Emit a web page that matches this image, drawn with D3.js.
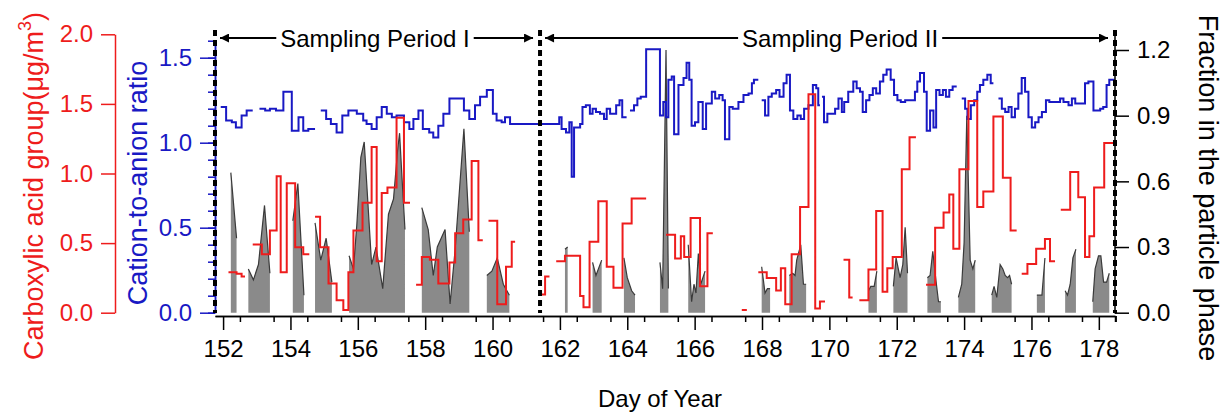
<!DOCTYPE html>
<html>
<head>
<meta charset="utf-8">
<script src="https://cdn.jsdelivr.net/npm/d3@7"></script>
<style>
  body { margin: 0; background: #fff; }
  text { font-family: Arial, "Liberation Sans", sans-serif; }
</style>
</head>
<body>
<div id="chart"></div>
<script>
// ---- data (day of year, value); null = gap starting at that day ----
const blueDays = [151.93,152.09,152.26,152.38,152.55,152.70,152.88,153.08,153.25,153.39,153.57,153.79,154.04,154.24,154.38,154.53,154.73,
  154.90,155.06,155.20,155.37,155.54,155.72,155.97,156.16,156.26,156.41,156.56,156.71,156.86,157.01,157.15,157.37,157.53,157.65,157.80,
  157.93,158.12,158.24,158.39,158.54,158.72,159.15,159.31,159.48,159.63,159.83,160.01,160.12,160.27,160.37,160.52,
  161.98,162.05,162.18,162.28,162.35,162.42,162.60,162.67,162.77,162.89,162.97,163.07,163.19,163.31,163.39,163.49,163.67,163.77,163.85,163.98,
  164.08,164.20,164.30,164.40,164.56,164.97,165.07,165.15,165.22,165.32,165.39,165.52,165.67,165.76,165.84,165.91,166.01,166.11,166.24,
  166.34,166.51,166.61,166.73,166.83,166.90,167.03,167.13,167.30,167.45,167.60,167.70,167.76,167.89,
  167.99,168.09,168.19,168.29,168.42,168.52,168.64,168.73,168.83,168.93,169.05,169.15,169.25,169.38,169.51,169.61,169.67,169.72,
  169.78,169.84,169.94,170.17,170.27,170.37,170.44,170.56,170.71,170.81,170.91,170.99,171.09,171.19,171.29,171.39,171.50,171.60,171.70,
  171.82,171.92,172.02,172.12,172.25,172.54,172.61,172.69,172.81,172.89,172.99,173.09,173.17,173.27,173.37,173.46,173.56,173.66,173.78,
  173.93,174.03,174.10,174.20,174.30,174.39,174.47,174.57,174.69,174.79,174.87,
  175.02,175.12,175.22,175.32,175.41,175.51,175.61,175.71,175.81,175.91,176.01,176.11,176.21,176.31,176.43,176.53,176.85,176.95,177.10,
  177.20,177.30,177.59,177.69,177.84,178.04,178.13,178.23,178.31,178.47];
const blueVals = [1.21,1.13,1.12,1.09,1.16,1.19,null,1.20,1.19,1.20,1.19,1.30,1.07,1.15,1.07,1.08,null,
  1.19,1.14,1.11,1.06,1.16,1.19,1.17,1.13,1.11,1.08,1.15,1.21,1.17,1.15,1.16,1.12,1.08,1.14,1.19,
  1.08,1.06,1.03,1.10,1.17,1.26,1.19,1.14,1.22,1.27,1.31,1.17,1.13,1.12,1.15,1.11,
  1.15,1.08,1.06,1.12,0.80,1.09,1.11,1.21,1.22,1.17,1.20,1.18,1.17,1.14,1.20,1.17,1.22,1.25,1.15,null,
  1.19,1.22,1.26,1.27,1.55,1.16,1.24,1.15,1.37,1.39,1.05,1.34,1.38,1.47,1.37,1.10,1.12,1.24,1.08,
  1.23,1.30,1.26,1.28,1.25,1.02,1.21,1.20,1.24,1.28,1.29,1.35,1.37,null,
  1.25,1.16,1.27,1.29,1.31,1.27,1.35,1.40,1.19,1.14,1.16,1.14,1.20,1.22,1.34,1.32,1.22,null,
  1.27,1.12,1.17,1.20,1.26,1.18,1.24,1.30,1.36,1.32,1.30,1.18,1.25,1.28,1.32,1.29,1.36,1.40,1.43,
  1.37,1.28,1.25,1.24,1.25,1.30,1.36,1.41,1.30,1.07,1.19,1.09,1.31,1.28,1.31,1.27,1.31,1.33,null,
  1.26,1.20,1.14,1.22,1.25,1.30,1.34,1.37,1.40,1.35,null,
  1.26,1.20,1.18,1.21,1.15,1.20,1.29,1.38,1.30,1.15,1.09,1.12,1.15,1.18,1.25,1.24,1.26,1.24,1.22,
  1.26,1.23,1.35,1.36,1.19,1.20,1.21,1.34,1.37,null];

const redDays = [152.16,152.40,152.55,152.65,152.88,153.15,153.39,153.59,153.71,153.89,154.14,154.38,154.56,
  154.73,154.88,155.13,155.37,155.57,155.72,155.87,156.14,156.41,156.56,156.71,156.88,157.15,157.37,157.55,
  157.73,157.90,158.14,158.39,158.72,158.89,159.13,159.38,159.58,159.71,159.88,160.14,160.40,160.57,160.67,
  161.41,161.56,161.69,161.89,162.15,162.60,162.70,162.88,163.14,163.39,163.59,163.86,164.13,164.56,
  165.15,165.42,165.59,165.69,165.88,166.16,166.38,166.54,167.40,167.55,
  167.89,168.14,168.42,168.56,168.69,168.88,169.13,169.38,169.58,169.72,169.87,170.42,170.59,170.69,
  170.89,171.16,171.39,171.58,171.72,171.88,172.15,172.38,172.57,172.87,173.14,173.39,173.56,173.68,173.86,
  174.13,174.39,174.57,174.87,175.15,175.38,175.56,175.71,175.88,176.14,176.40,176.55,176.70,
  176.87,177.15,177.39,177.59,177.72,177.86,178.16,178.45];
const redVals = [0.29,0.28,0.26,null,0.49,0.42,0.59,0.98,0.29,0.93,0.47,0.42,null,
  0.69,0.47,0.21,0.09,0.02,0.29,0.59,0.79,1.19,0.37,0.86,0.90,1.40,0.79,null,
  0.20,0.40,0.38,0.21,0.36,0.57,0.67,1.09,0.52,null,0.66,0.06,0.33,0.51,null,
  0.13,0.26,null,0.37,0.41,0.12,0.04,0.51,0.80,0.33,0.18,0.64,0.82,null,
  0.56,0.39,0.55,0.40,0.68,0.19,0.57,null,0.02,null,
  0.29,0.25,0.16,0.32,0.06,0.42,0.76,1.57,0.03,0.08,null,0.38,0.11,null,
  0.09,0.31,0.73,0.15,0.32,0.40,1.03,1.26,null,0.20,0.61,0.72,0.85,0.46,1.03,
  1.52,0.76,0.87,1.41,0.97,0.59,null,0.28,0.35,0.46,0.53,0.37,null,
  0.74,1.01,0.83,0.40,0.55,0.90,1.22,null];

const fracDays = [152.23,152.40,0,
  152.75,152.90,153.05,153.23,153.39,0,
  154.07,154.22,154.40,0,
  154.73,154.90,155.06,155.23,0,
  155.74,155.87,155.97,156.09,156.19,156.41,156.54,156.74,156.91,157.06,157.18,157.24,157.30,157.40,0,
  157.90,158.09,158.24,158.36,158.59,158.74,158.89,159.15,159.31,0,
  159.83,159.98,160.14,160.32,160.50,0,
  162.15,162.23,0,
  162.97,163.07,163.24,0,
  163.90,164.00,164.13,164.23,0,
  164.97,165.05,165.15,165.22,0,
  165.81,165.91,165.98,166.04,166.11,166.18,166.31,0,
  167.99,168.09,168.16,168.24,0,
  168.81,168.91,168.98,169.03,169.15,169.23,169.31,0,
  171.16,171.23,171.33,171.41,0,
  171.90,171.98,172.10,172.18,172.25,172.32,0,
  172.91,172.99,173.07,173.17,173.24,173.31,0,
  173.83,173.93,174.00,174.08,174.18,174.26,174.33,0,
  174.82,174.89,174.97,175.07,175.15,175.22,175.29,175.35,175.41,0,
  176.16,176.31,176.40,0,
  177.00,177.07,177.15,177.23,177.32,0,
  177.82,177.89,177.99,178.06,178.14,178.23,178.31];
const fracVals = [0.64,0.34,null,
  0.20,0.15,0.22,0.49,0.18,null,
  0.42,0.59,0.08,null,
  0.41,0.24,0.34,0.14,null,
  0.26,0.20,0.40,0.71,0.78,0.22,0.30,0.11,0.45,0.52,0.74,0.82,0.65,0.38,null,
  0.48,0.38,0.17,0.30,0.38,0.04,0.29,0.84,0.37,null,
  0.17,0.19,0.25,0.13,0.08,null,
  0.29,0.30,null,
  0.23,0.17,0.24,null,
  0.25,0.16,0.10,0.08,null,
  0.23,0.11,1.20,0.11,null,
  0.31,0.05,0.13,0.09,0.27,0.13,0.19,null,
  0.21,0.09,0.11,0.11,null,
  0.17,0.18,0.17,0.24,0.31,0.13,0.13,null,
  0.10,0.12,0.12,0.19,null,
  0.12,0.25,0.16,0.22,0.39,0.18,null,
  0.16,0.17,0.28,0.14,0.05,0.05,null,
  0.07,0.13,0.32,0.90,0.24,0.20,0.24,null,
  0.08,0.12,0.07,0.22,0.20,0.17,0.16,0.17,0.13,null,
  0.08,0.08,0.25,null,
  0.10,0.08,0.13,0.25,0.29,null,
  0.05,0.20,0.26,0.26,0.14,0.14,0.18];

const periodBounds = [151.76, 161.41, 178.48];
const periodLabels = ["Sampling Period I", "Sampling Period II"];
const periodLabelDays = [156.51, 170.32];

const redTicks = [0, 0.5, 1.0, 1.5, 2.0];
const blueTicks = [0, 0.5, 1.0, 1.5];
const fracTicks = [0, 0.3, 0.6, 0.9, 1.2];
const dayTicks = d3.range(152, 179, 2);

// ---- layout ----
const width = 1225, height = 417;
const RED = "#ee1c1c", BLUE = "#1919c4";

const svg = d3.select("#chart").append("svg")
    .attr("width", width)
    .attr("height", height);

const x = d3.scaleLinear().domain([151.76, 178.48]).range([215, 1115]);
const yBlue = d3.scaleLinear().domain([0, 1.6]).range([312.7, 40.7]);
const yRed = d3.scaleLinear().domain([0, 2]).range([312.7, 34.3]);
const yFrac = d3.scaleLinear().domain([0, 1.2]).range([312.7, 50]);

// turns (start day, value) rows into points for a step line that ends at each gap
function stepPoints(days, vals){
    const pts = [];
    days.forEach((d, i) => {
        if (vals[i] == null) {
            if (i > 0 && vals[i-1] != null) pts.push({d: d, v: vals[i-1]});
            pts.push({d: d, v: null});
        } else {
            pts.push({d: d, v: vals[i]});
        }
    });
    return pts;
}

// gray area: fraction in the particle phase
const fracData = fracDays.map((d, i) => ({d: d, v: fracVals[i]}));
svg.append("path")
    .datum(fracData)
    .attr("fill", "#8a8a8a")
    .attr("d", d3.area()
        .defined(p => p.v != null)
        .x(p => x(p.d))
        .y0(yFrac(0))
        .y1(p => yFrac(p.v)));
svg.append("path")
    .datum(fracData)
    .attr("fill", "none")
    .attr("stroke", "#3a3a3a")
    .attr("stroke-width", 1.2)
    .attr("d", d3.line()
        .defined(p => p.v != null)
        .x(p => x(p.d))
        .y(p => yFrac(p.v)));

// blue step line
svg.append("path")
    .datum(stepPoints(blueDays, blueVals))
    .attr("fill", "none")
    .attr("stroke", BLUE)
    .attr("stroke-width", 2)
    .attr("d", d3.line()
        .defined(p => p.v != null)
        .curve(d3.curveStepAfter)
        .x(p => x(p.d))
        .y(p => yBlue(p.v)));

// red step line
svg.append("path")
    .datum(stepPoints(redDays, redVals))
    .attr("fill", "none")
    .attr("stroke", RED)
    .attr("stroke-width", 2)
    .attr("d", d3.line()
        .defined(p => p.v != null)
        .curve(d3.curveStepAfter)
        .x(p => x(p.d))
        .y(p => yRed(p.v)));

// ---- axes ----
function styleAxis(g, color, size){
    g.select(".domain").attr("stroke", color).attr("stroke-width", 1.5);
    g.selectAll(".tick line").attr("stroke", color).attr("stroke-width", 1.5);
    g.selectAll(".tick text").attr("fill", color).attr("font-size", size)
        .attr("font-family", "Arial, 'Liberation Sans', sans-serif");
}

// bottom axis
const gx = svg.append("g").attr("transform", "translate(0,316)")
    .call(d3.axisBottom(x).tickValues(dayTicks).tickFormat(d3.format("d"))
        .tickSize(14).tickSizeOuter(0).tickPadding(10));
styleAxis(gx, "#000", 24);
const gx2 = svg.append("g").attr("transform", "translate(0,316)")
    .call(d3.axisBottom(x).tickValues(d3.range(152.5, 178.6, 1).concat([178.48]))
        .tickFormat("").tickSize(6).tickSizeOuter(0));
styleAxis(gx2, "#000", 24);

// red left axis
const gr = svg.append("g").attr("transform", "translate(115,0)")
    .call(d3.axisLeft(yRed).tickValues(redTicks).tickFormat(d3.format(".1f"))
        .tickSize(14).tickSizeOuter(0).tickPadding(8));
styleAxis(gr, RED, 24);

// blue left axis
const gb2 = svg.append("g").attr("transform", "translate(215,0)")
    .call(d3.axisLeft(yBlue).tickValues(d3.range(0, 1.61, 0.1)).tickFormat("")
        .tickSize(7).tickSizeOuter(0));
styleAxis(gb2, BLUE, 24);
const gb = svg.append("g").attr("transform", "translate(215,0)")
    .call(d3.axisLeft(yBlue).tickValues(blueTicks).tickFormat(d3.format(".1f"))
        .tickSize(15).tickSizeOuter(0).tickPadding(8));
styleAxis(gb, BLUE, 24);

// right axis
const gf = svg.append("g").attr("transform", "translate(1115,0)")
    .call(d3.axisRight(yFrac).tickValues(fracTicks).tickFormat(d3.format(".1f"))
        .tickSize(14).tickSizeOuter(0).tickPadding(8));
styleAxis(gf, "#000", 24);
gf.select(".domain").attr("d", "M0,313.5V30");

// dotted period separators
svg.append("g").selectAll("line")
    .data(periodBounds)
    .enter()
    .append("line")
        .attr("x1", d => x(d)).attr("x2", d => x(d))
        .attr("y1", 30).attr("y2", 313)
        .attr("stroke", "#000")
        .attr("stroke-width", 4)
        .attr("stroke-dasharray", "6,4");

// period annotations with arrows
const defs = svg.append("defs");
defs.append("marker")
    .attr("id", "arrow")
    .attr("viewBox", "0 0 10 10")
    .attr("refX", 10).attr("refY", 5)
    .attr("markerWidth", 16).attr("markerHeight", 9)
    .attr("markerUnits", "userSpaceOnUse")
    .attr("orient", "auto")
    .append("path").attr("d", "M0,0L10,5L0,10Z").attr("fill", "#000");

periodLabels.forEach((label, i) => {
    const left = x(periodBounds[i]) + 5;
    const right = x(periodBounds[i+1]) - 7;
    const cx = x(periodLabelDays[i]);
    const t = svg.append("text")
        .attr("x", cx).attr("y", 46.5)
        .attr("text-anchor", "middle")
        .attr("font-size", 24)
        .attr("fill", "#000")
        .text(label);
    const half = t.node().getComputedTextLength() / 2;
    svg.append("line")
        .attr("x1", cx - half - 4).attr("x2", left)
        .attr("y1", 38).attr("y2", 38)
        .attr("stroke", "#000").attr("stroke-width", 2)
        .attr("marker-end", "url(#arrow)");
    svg.append("line")
        .attr("x1", cx + half + 4).attr("x2", right)
        .attr("y1", 38).attr("y2", 38)
        .attr("stroke", "#000").attr("stroke-width", 2)
        .attr("marker-end", "url(#arrow)");
});

// axis titles
const redTitle = svg.append("text")
    .attr("transform", "translate(43,186) rotate(-90)")
    .attr("text-anchor", "middle")
    .attr("font-size", 27)
    .attr("fill", RED);
redTitle.append("tspan").text("Carboxylic acid group(μg/m");
redTitle.append("tspan").attr("font-size", 18).attr("dy", -12).text("3");
redTitle.append("tspan").attr("dy", 12).text(")");

svg.append("text")
    .attr("transform", "translate(147,183) rotate(-90)")
    .attr("text-anchor", "middle")
    .attr("font-size", 27)
    .attr("fill", BLUE)
    .text("Cation-to-anion ratio");

svg.append("text")
    .attr("transform", "translate(1199,188) rotate(90)")
    .attr("text-anchor", "middle")
    .attr("font-size", 27)
    .attr("fill", "#000")
    .text("Fraction in the particle phase");

svg.append("text")
    .attr("x", 660).attr("y", 407)
    .attr("text-anchor", "middle")
    .attr("font-size", 24)
    .attr("fill", "#000")
    .text("Day of Year");
</script>
</body>
</html>
